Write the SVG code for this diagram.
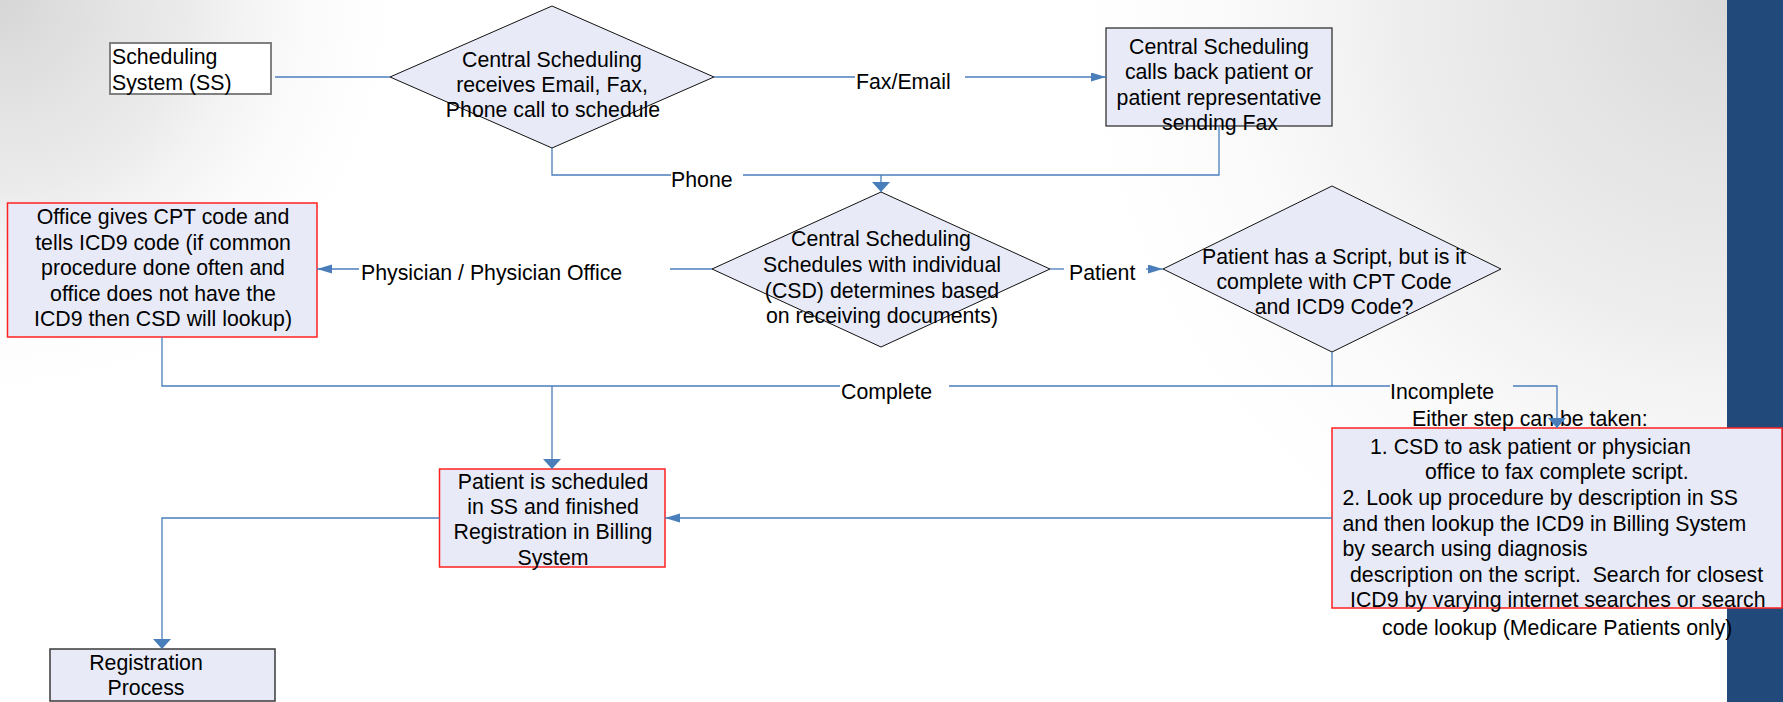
<svg xmlns="http://www.w3.org/2000/svg" width="1783" height="702" viewBox="0 0 1783 702">
<style>
.bx{fill:#E8EBF7}
.red{stroke:#FF2020;stroke-width:1.5}
.dk{stroke:#333;stroke-width:1.3}
.dia{fill:#E8EBF7;stroke:#111;stroke-width:1}
.conn{fill:none;stroke:#4A7EBB;stroke-width:1.3}
text{font-family:"Liberation Sans",Arial,sans-serif;font-size:21.3px;fill:#000}
.c{text-anchor:middle}
</style>
<defs>
<radialGradient id="tl" gradientUnits="userSpaceOnUse" cx="0" cy="0" r="420">
<stop offset="0" stop-color="#d6d6d6" stop-opacity="1"/>
<stop offset="0.45" stop-color="#e6e6e6" stop-opacity="0.8"/>
<stop offset="1" stop-color="#ffffff" stop-opacity="0"/>
</radialGradient>
<radialGradient id="tr" gradientUnits="userSpaceOnUse" cx="1727" cy="0" r="700">
<stop offset="0" stop-color="#d9d9d9" stop-opacity="1"/>
<stop offset="0.45" stop-color="#e8e8e8" stop-opacity="0.8"/>
<stop offset="1" stop-color="#ffffff" stop-opacity="0"/>
</radialGradient>
<marker id="ah" markerUnits="userSpaceOnUse" markerWidth="16" markerHeight="10" refX="15" refY="4.5" orient="auto"><path d="M0,0 L15,4.5 L0,9 z" fill="#4A7EBB"/></marker>
<marker id="av" markerUnits="userSpaceOnUse" markerWidth="11" markerHeight="18" refX="10" refY="9" orient="auto"><path d="M0,0 L10,9 L0,18 z" fill="#4A7EBB"/></marker>
</defs>
<rect x="0" y="0" width="1783" height="702" fill="#fff"/>
<rect x="0" y="0" width="1783" height="702" fill="url(#tl)"/>
<rect x="0" y="0" width="1783" height="702" fill="url(#tr)"/>
<rect x="1727" y="0" width="56" height="702" fill="#214A7B"/>

<g id="ss">
<rect x="110" y="43" width="161" height="51" fill="#fff" stroke="#808080" stroke-width="2"/>
<text x="112" y="64">Scheduling</text>
<text x="112" y="90">System (SS)</text>
</g>

<g id="d1">
<polygon class="dia" points="390,77 552,6 714,77 552,148"/>
<text class="c" x="552" y="66.5">Central Scheduling</text>
<text class="c" x="552" y="91.5">receives Email, Fax,</text>
<text class="c" x="553" y="116.5">Phone call to schedule</text>
</g>

<g id="callback">
<rect class="bx dk" x="1106" y="28" width="226" height="98"/>
<text class="c" x="1219" y="53.5">Central Scheduling</text>
<text class="c" x="1219" y="79">calls back patient or</text>
<text class="c" x="1219" y="104.5">patient representative</text>
<text class="c" x="1220" y="130">sending Fax</text>
</g>

<g id="d2">
<polygon class="dia" points="712,269 881,192 1050,269 881,347"/>
<text class="c" x="881" y="246">Central Scheduling</text>
<text class="c" x="882" y="272">Schedules with individual</text>
<text class="c" x="882" y="297.5">(CSD) determines based</text>
<text class="c" x="882" y="323">on receiving documents)</text>
</g>

<g id="office">
<rect class="bx red" x="7.5" y="203" width="309.5" height="134"/>
<text class="c" x="163" y="224">Office gives CPT code and</text>
<text class="c" x="163" y="249.5">tells ICD9 code (if common</text>
<text class="c" x="163" y="275">procedure done often and</text>
<text class="c" x="163" y="300.5">office does not have the</text>
<text class="c" x="163" y="326">ICD9 then CSD will lookup)</text>
</g>

<g id="d3">
<polygon class="dia" points="1163,269 1332,186 1501,269 1332,352"/>
<text class="c" x="1334" y="263.5">Patient has a Script, but is it</text>
<text class="c" x="1334" y="288.5">complete with CPT Code</text>
<text class="c" x="1334" y="314">and ICD9 Code?</text>
</g>

<g id="scheduled">
<rect class="bx red" x="439.5" y="469" width="225.5" height="98"/>
<text class="c" x="553" y="488.5">Patient is scheduled</text>
<text class="c" x="553" y="513.5">in SS and finished</text>
<text class="c" x="553" y="539">Registration in Billing</text>
<text class="c" x="553" y="564.5">System</text>
</g>

<g id="steps">
<rect class="bx red" x="1332" y="428" width="450" height="180"/>
<text x="1412" y="426">Either step can be taken:</text>
<text x="1370" y="453.5">1. CSD to ask patient or physician</text>
<text x="1425" y="479">office to fax complete script.</text>
<text x="1342.5" y="505">2. Look up procedure by description in SS</text>
<text x="1342.5" y="530.5">and then lookup the ICD9 in Billing System</text>
<text x="1342.5" y="556">by search using diagnosis</text>
<text x="1350" y="581.5" xml:space="preserve">description on the script.  Search for closest</text>
<text x="1350" y="607">ICD9 by varying internet searches or search</text>
<text x="1382" y="635">code lookup (Medicare Patients only)</text>
</g>

<g id="registration">
<rect class="bx" x="50" y="649" width="225" height="52" stroke="#3a3a3a" stroke-width="1.5"/>
<text class="c" x="146" y="669.5">Registration</text>
<text class="c" x="146" y="695">Process</text>
</g>

<g id="connectors">
<path class="conn" d="M275,77 H390"/>
<path class="conn" d="M714,77 H855"/>
<path class="conn" d="M965,77 H1106" marker-end="url(#ah)"/>
<text x="856" y="89.3">Fax/Email</text>
<path class="conn" d="M552,148 V175 H671"/>
<path class="conn" d="M743,175 H1219 V126"/>
<path class="conn" d="M881,175 V192" marker-end="url(#av)"/>
<text x="671" y="186.7">Phone</text>
<path class="conn" d="M712,269 H670"/>
<path class="conn" d="M359,269 H317" marker-end="url(#ah)"/>
<text x="361" y="280">Physician / Physician Office</text>
<path class="conn" d="M1050,269 H1064"/>
<path class="conn" d="M1146,269 H1163" marker-end="url(#ah)"/>
<text x="1069" y="280">Patient</text>
<path class="conn" d="M162,337 V386 H840"/>
<path class="conn" d="M949,386 H1332 V352"/>
<path class="conn" d="M552,386 V469" marker-end="url(#av)"/>
<text x="841" y="399">Complete</text>
<path class="conn" d="M1332,386 H1390"/>
<path class="conn" d="M1513,386 H1557 V428" marker-end="url(#av)"/>
<text x="1390" y="399.3">Incomplete</text>
<path class="conn" d="M1332,518 H665" marker-end="url(#ah)"/>
<path class="conn" d="M439.5,518 H162 V649" marker-end="url(#av)"/>
</g>
</svg>
